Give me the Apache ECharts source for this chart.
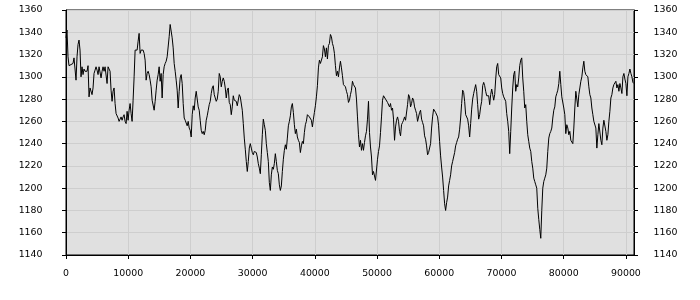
<!DOCTYPE html>
<html>
<head>
<meta charset="utf-8">
<script src="https://cdn.jsdelivr.net/npm/echarts@6/dist/echarts.min.js"></script>
<style>
html,body{margin:0;padding:0;background:#fff;}
#chart{width:700px;height:300px;}
</style>
</head>
<body>
<div id="chart"></div>
<script>
// sample spacing along the x axis (data index * step)
const X_STEP = 161;
const yValues = [
1335,1342,1318,1310,1310,1311,1311,1312,1317,1318,
1297,1318,1329,1333,1324,1300,1309,1302,1307,1305,
1306,1305,1310,1282,1290,1290,1284,1290,1303,1306,
1309,1306,1302,1309,1308,1299,1305,1309,1305,1309,
1308,1294,1309,1308,1305,1288,1278,1287,1290,1276,
1267,1267,1263,1260,1261,1264,1261,1264,1266,1260,
1258,1269,1261,1270,1276,1267,1260,1279,1300,1324,
1324,1324,1332,1339,1321,1324,1324,1324,1321,1315,
1297,1303,1305,1302,1297,1291,1279,1279,1270,1278,
1288,1297,1302,1309,1296,1303,1281,1302,1309,1312,
1314,1318,1318,1336,1347,1346,1335,1326,1312,1305,
1297,1288,1272,1287,1299,1302,1294,1276,1263,1261,
1261,1256,1260,1254,1252,1246,1266,1274,1270,1281,
1287,1288,1273,1270,1261,1252,1249,1251,1248,1252,
1261,1265,1270,1275,1278,1285,1290,1292,1284,1281,
1278,1280,1287,1303,1300,1291,1296,1299,1296,1290,
1281,1288,1290,1277,1275,1266,1273,1283,1279,1279,
1278,1274,1275,1284,1282,1281,1270,1258,1245,1235,
1224,1215,1224,1236,1240,1236,1232,1230,1233,1234,
1232,1228,1222,1218,1213,1230,1248,1262,1257,1252,
1240,1232,1224,1205,1198,1212,1219,1217,1222,1231,
1224,1216,1213,1203,1198,1202,1215,1226,1234,1239,
1235,1245,1256,1260,1265,1273,1276,1268,1257,1249,
1253,1246,1243,1241,1232,1238,1242,1240,1250,1257,
1260,1266,1266,1264,1263,1261,1255,1262,1268,1274,
1282,1292,1308,1315,1312,1312,1318,1328,1325,1318,
1326,1316,1328,1330,1338,1336,1330,1327,1321,1310,
1301,1305,1300,1308,1314,1308,1301,1293,1294,1291,
1287,1284,1277,1279,1284,1288,1296,1293,1292,1290,
1280,1264,1248,1237,1243,1234,1240,1234,1241,1247,
1251,1262,1278,1250,1237,1228,1212,1215,1214,1207,
1206,1226,1233,1238,1250,1264,1279,1283,1282,1280,
1281,1277,1278,1273,1276,1270,1272,1262,1243,1255,
1261,1264,1260,1251,1247,1257,1259,1261,1264,1261,
1262,1275,1284,1282,1273,1276,1281,1279,1273,1270,
1267,1260,1261,1268,1270,1262,1259,1256,1247,1244,
1238,1230,1232,1233,1240,1254,1264,1271,1271,1268,
1267,1264,1256,1242,1229,1219,1210,1198,1186,1180,
1187,1192,1202,1207,1212,1220,1224,1228,1232,1238,
1241,1244,1246,1253,1263,1276,1288,1286,1278,1266,
1265,1262,1256,1246,1258,1271,1280,1285,1289,1293,
1287,1275,1262,1266,1273,1278,1292,1295,1292,1287,
1283,1284,1283,1275,1284,1289,1284,1279,1284,1298,
1309,1312,1302,1302,1299,1290,1285,1282,1282,1278,
1267,1260,1251,1231,1251,1272,1290,1302,1305,1287,
1293,1291,1299,1310,1315,1317,1299,1287,1272,1275,
1260,1248,1242,1236,1233,1224,1218,1209,1206,1203,
1200,1182,1172,1163,1155,1180,1200,1206,1209,1212,
1218,1233,1245,1249,1251,1254,1263,1270,1273,1282,
1285,1288,1294,1305,1293,1282,1281,1272,1266,1249,
1257,1254,1248,1251,1243,1242,1240,1254,1272,1287,
1287,1273,1284,1290,1296,1300,1308,1314,1305,1302,
1303,1300,1291,1284,1281,1272,1266,1260,1261,1254,
1236,1248,1258,1257,1243,1239,1254,1261,1260,1251,
1243,1248,1260,1269,1281,1284,1290,1293,1294,1296,
1290,1293,1287,1294,1290,1285,1300,1303,1298,1294,
1283,1300,1303,1307,1303,1300,1295,1294
];
const xTicks = [0,10000,20000,30000,40000,50000,60000,70000,80000,90000];
const yTicks = [1140,1160,1180,1200,1220,1240,1260,1280,1300,1320,1340,1360];
const X_MIN = 0, X_MAX = 91300;
const Y_MIN = 1140, Y_MAX = 1360;

const seriesData = yValues.map((v, i) => [i * X_STEP, v]);

const plain = v => String(v);
const font = {color:'#000', fontFamily:'DejaVu Sans', fontSize:9.4, formatter:plain};
const chart = echarts.init(document.getElementById('chart'), null, {renderer:'canvas'});
chart.setOption({
  animation:false,
  backgroundColor:'#ffffff',
  grid:{left:66, top:10, width:568, height:245, show:true, backgroundColor:'#e0e0e0', borderColor:'#000', borderWidth:1},
  xAxis:{
    type:'value', min:X_MIN, max:X_MAX, interval:10000,
    axisLine:{show:true, lineStyle:{color:'#000', width:1}},
    axisTick:{show:true, length:4, lineStyle:{color:'#000'}, customValues:xTicks},
    axisLabel:Object.assign({margin:14, customValues:xTicks}, font),
    splitLine:{show:true, lineStyle:{color:'#cecece', width:1}}
  },
  yAxis:[
    {
      type:'value', min:Y_MIN, max:Y_MAX, interval:20, position:'left',
      axisLine:{show:true, lineStyle:{color:'#000', width:1}},
      axisTick:{show:true, length:4, lineStyle:{color:'#000'}, customValues:yTicks},
      axisLabel:Object.assign({margin:23.5, customValues:yTicks}, font),
      splitLine:{show:true, lineStyle:{color:'#cecece', width:1}}
    },
    {
      type:'value', min:Y_MIN, max:Y_MAX, interval:20, position:'right',
      axisLine:{show:true, lineStyle:{color:'#000', width:1}},
      axisTick:{show:true, length:4, lineStyle:{color:'#000'}, customValues:yTicks},
      axisLabel:Object.assign({margin:19.5, customValues:yTicks}, font),
      splitLine:{show:false}
    }
  ],
  series:[{
    type:'line', xAxisIndex:0, yAxisIndex:0, data:seriesData,
    showSymbol:false, symbol:'none', smooth:false,
    lineStyle:{color:'#000', width:1}
  }]
});
</script>
</body>
</html>
